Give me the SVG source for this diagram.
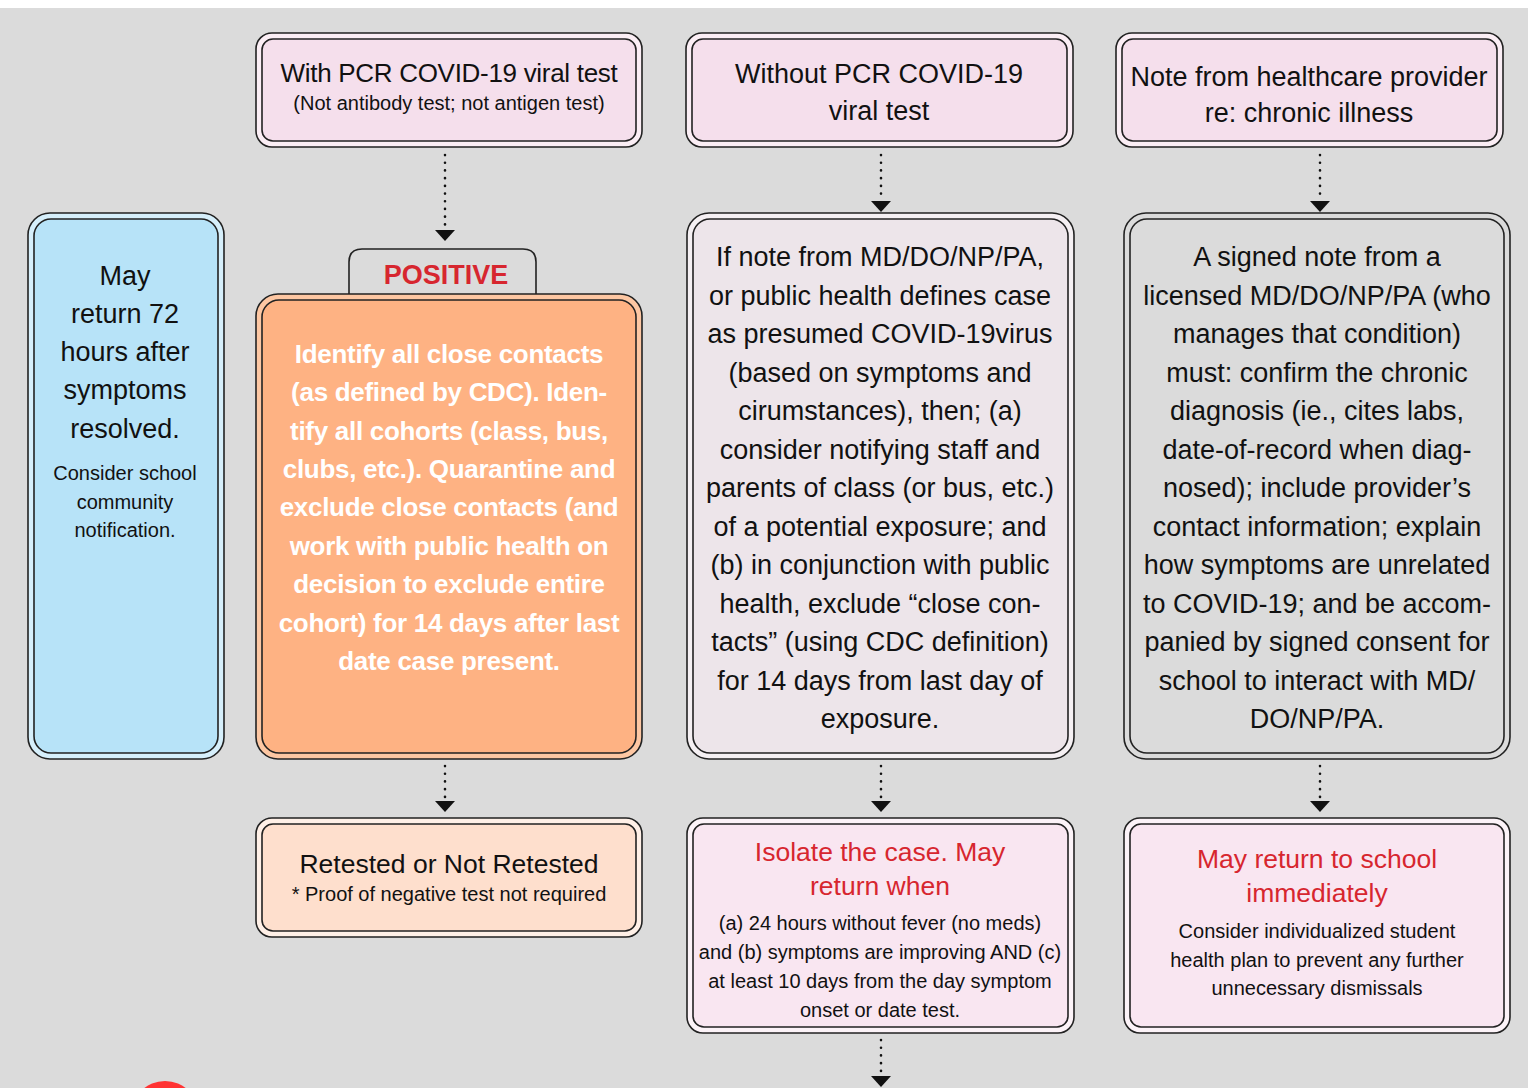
<svg xmlns="http://www.w3.org/2000/svg" width="1528" height="1088" viewBox="0 0 1528 1088">
<defs>
<style>
text{font-family:"Liberation Sans",Arial,sans-serif;text-anchor:middle;fill:#111}
.o{stroke:#222;stroke-width:1.6}
.i{stroke:#222;stroke-width:1.6}
.big{font-size:27px}
.hd{font-size:26.5px}
.sm{font-size:20px}
.red{fill:#d7262f}
.wt{fill:#ffffff;font-weight:bold;font-size:26px;letter-spacing:-0.3px}
.dot{stroke:#111;stroke-width:2.6;stroke-dasharray:0.1 7.6;stroke-linecap:round;fill:none}
</style>
</defs>
<rect x="0" y="0" width="1528" height="1088" fill="#dbdbdb"/>
<rect x="0" y="0" width="1528" height="8" fill="#ffffff"/>
<circle cx="165" cy="1115" r="34" fill="#ff3333"/>

<g id="connectors">
<line class="dot" x1="445" y1="155" x2="445" y2="229"/>
<path d="M435,230 L455,230 L445,241 Z" fill="#111"/>
<line class="dot" x1="881" y1="155" x2="881" y2="199"/>
<path d="M871,201 L891,201 L881,212 Z" fill="#111"/>
<line class="dot" x1="1320" y1="155" x2="1320" y2="199"/>
<path d="M1310,201 L1330,201 L1320,212 Z" fill="#111"/>
<line class="dot" x1="445" y1="766" x2="445" y2="799"/>
<path d="M435,801 L455,801 L445,812 Z" fill="#111"/>
<line class="dot" x1="881" y1="766" x2="881" y2="799"/>
<path d="M871,801 L891,801 L881,812 Z" fill="#111"/>
<line class="dot" x1="1320" y1="766" x2="1320" y2="799"/>
<path d="M1310,801 L1330,801 L1320,812 Z" fill="#111"/>
<line class="dot" x1="881" y1="1040" x2="881" y2="1074"/>
<path d="M871,1076 L891,1076 L881,1087 Z" fill="#111"/>
</g>

<g id="n-pcr">
<rect class="o" x="256" y="33" width="386" height="114" rx="16" fill="#fbeef5"/>
<rect class="i" x="262" y="39" width="374" height="102" rx="11" fill="#f5dfec"/>
<text x="449" y="82" style="font-size:26px;letter-spacing:-0.3px">With PCR COVID-19 viral test</text>
<text class="sm" x="449" y="110">(Not antibody test; not antigen test)</text>
</g>

<g id="n-nopcr">
<rect class="o" x="686" y="33" width="387" height="114" rx="16" fill="#fbeef5"/>
<rect class="i" x="692" y="39" width="375" height="102" rx="11" fill="#f5dfec"/>
<text class="big" x="879" y="83">Without PCR COVID-19</text>
<text class="big" x="879" y="120">viral test</text>
</g>

<g id="n-note">
<rect class="o" x="1116" y="33" width="387" height="114" rx="16" fill="#fbeef5"/>
<rect class="i" x="1122" y="39" width="375" height="102" rx="11" fill="#f5dfec"/>
<text class="big" x="1309" y="86">Note from healthcare provider</text>
<text class="big" x="1309" y="122">re: chronic illness</text>
</g>

<g id="n-may72">
<rect class="o" x="28" y="213" width="196" height="546" rx="22" fill="#d6effb"/>
<rect class="i" x="34" y="219" width="184" height="534" rx="17" fill="#b7e3f8"/>
<text class="big" x="125" y="285">May</text>
<text class="big" x="125" y="323">return 72</text>
<text class="big" x="125" y="361">hours after</text>
<text class="big" x="125" y="399">symptoms</text>
<text class="big" x="125" y="438">resolved.</text>
<text class="sm" x="125" y="480">Consider school</text>
<text class="sm" x="125" y="509">community</text>
<text class="sm" x="125" y="537">notification.</text>
</g>

<g id="n-positive">
<path d="M349,297 L349,262 Q349,249 362,249 L523,249 Q536,249 536,262 L536,297" fill="#dbdbdb" stroke="#222" stroke-width="1.6"/>
<text x="446" y="284" class="red" style="font-size:27px;font-weight:bold">POSITIVE</text>
</g>

<g id="n-identify">
<rect class="o" x="256" y="294" width="386" height="465" rx="22" fill="#fdc7a3"/>
<rect class="i" x="262" y="300" width="374" height="453" rx="17" fill="#feb283"/>
<text class="wt" x="449" y="363">Identify all close contacts</text>
<text class="wt" x="449" y="401">(as defined by CDC). Iden-</text>
<text class="wt" x="449" y="440">tify all cohorts (class, bus,</text>
<text class="wt" x="449" y="478">clubs, etc.). Quarantine and</text>
<text class="wt" x="449" y="516">exclude close contacts (and</text>
<text class="wt" x="449" y="555">work with public health on</text>
<text class="wt" x="449" y="593">decision to exclude entire</text>
<text class="wt" x="449" y="632">cohort) for 14 days after last</text>
<text class="wt" x="449" y="670">date case present.</text>
</g>

<g id="n-ifnote">
<rect class="o" x="687" y="213" width="387" height="546" rx="22" fill="#f5f0f3"/>
<rect class="i" x="693" y="219" width="375" height="534" rx="17" fill="#ede5ea"/>
<text class="big" x="880" y="266">If note from MD/DO/NP/PA,</text>
<text class="big" x="880" y="305">or public health defines case</text>
<text class="big" x="880" y="343">as presumed COVID-19virus</text>
<text class="big" x="880" y="382">(based on symptoms and</text>
<text class="big" x="880" y="420">cirumstances), then; (a)</text>
<text class="big" x="880" y="459">consider notifying staff and</text>
<text class="big" x="880" y="497">parents of class (or bus, etc.)</text>
<text class="big" x="880" y="536">of a potential exposure; and</text>
<text class="big" x="880" y="574">(b) in conjunction with public</text>
<text class="big" x="880" y="613">health, exclude “close con-</text>
<text class="big" x="880" y="651">tacts” (using CDC definition)</text>
<text class="big" x="880" y="690">for 14 days from last day of</text>
<text class="big" x="880" y="728">exposure.</text>
</g>

<g id="n-signed">
<rect class="o" x="1124" y="213" width="386" height="546" rx="22" fill="#dbdbdb"/>
<rect class="i" x="1130" y="219" width="374" height="534" rx="17" fill="#dbdbdb"/>
<text class="big" x="1317" y="266">A signed note from a</text>
<text class="big" x="1317" y="305">licensed MD/DO/NP/PA (who</text>
<text class="big" x="1317" y="343">manages that condition)</text>
<text class="big" x="1317" y="382">must: confirm the chronic</text>
<text class="big" x="1317" y="420">diagnosis (ie., cites labs,</text>
<text class="big" x="1317" y="459">date-of-record when diag-</text>
<text class="big" x="1317" y="497">nosed); include provider’s</text>
<text class="big" x="1317" y="536">contact information; explain</text>
<text class="big" x="1317" y="574">how symptoms are unrelated</text>
<text class="big" x="1317" y="613">to COVID-19; and be accom-</text>
<text class="big" x="1317" y="651">panied by signed consent for</text>
<text class="big" x="1317" y="690">school to interact with MD/</text>
<text class="big" x="1317" y="728">DO/NP/PA.</text>
</g>

<g id="n-retested">
<rect class="o" x="256" y="818" width="386" height="119" rx="16" fill="#fff0e7"/>
<rect class="i" x="262" y="824" width="374" height="107" rx="11" fill="#fedfcd"/>
<text class="hd" x="449" y="873">Retested or Not Retested</text>
<text class="sm" x="449" y="901">* Proof of negative test not required</text>
</g>

<g id="n-isolate">
<rect class="o" x="687" y="818" width="387" height="215" rx="16" fill="#fcf3f8"/>
<rect class="i" x="693" y="824" width="375" height="203" rx="11" fill="#f9e6f1"/>
<text class="hd red" x="880" y="861">Isolate the case. May</text>
<text class="hd red" x="880" y="895">return when</text>
<text class="sm" x="880" y="930">(a) 24 hours without fever (no meds)</text>
<text class="sm" x="880" y="959">and (b) symptoms are improving AND (c)</text>
<text class="sm" x="880" y="988">at least 10 days from the day symptom</text>
<text class="sm" x="880" y="1017">onset or date test.</text>
</g>

<g id="n-return">
<rect class="o" x="1124" y="818" width="386" height="215" rx="16" fill="#fcf3f8"/>
<rect class="i" x="1130" y="824" width="374" height="203" rx="11" fill="#f9e6f1"/>
<text class="hd red" x="1317" y="868">May return to school</text>
<text class="hd red" x="1317" y="902">immediately</text>
<text class="sm" x="1317" y="938">Consider individualized student</text>
<text class="sm" x="1317" y="967">health plan to prevent any further</text>
<text class="sm" x="1317" y="995">unnecessary dismissals</text>
</g>
</svg>
